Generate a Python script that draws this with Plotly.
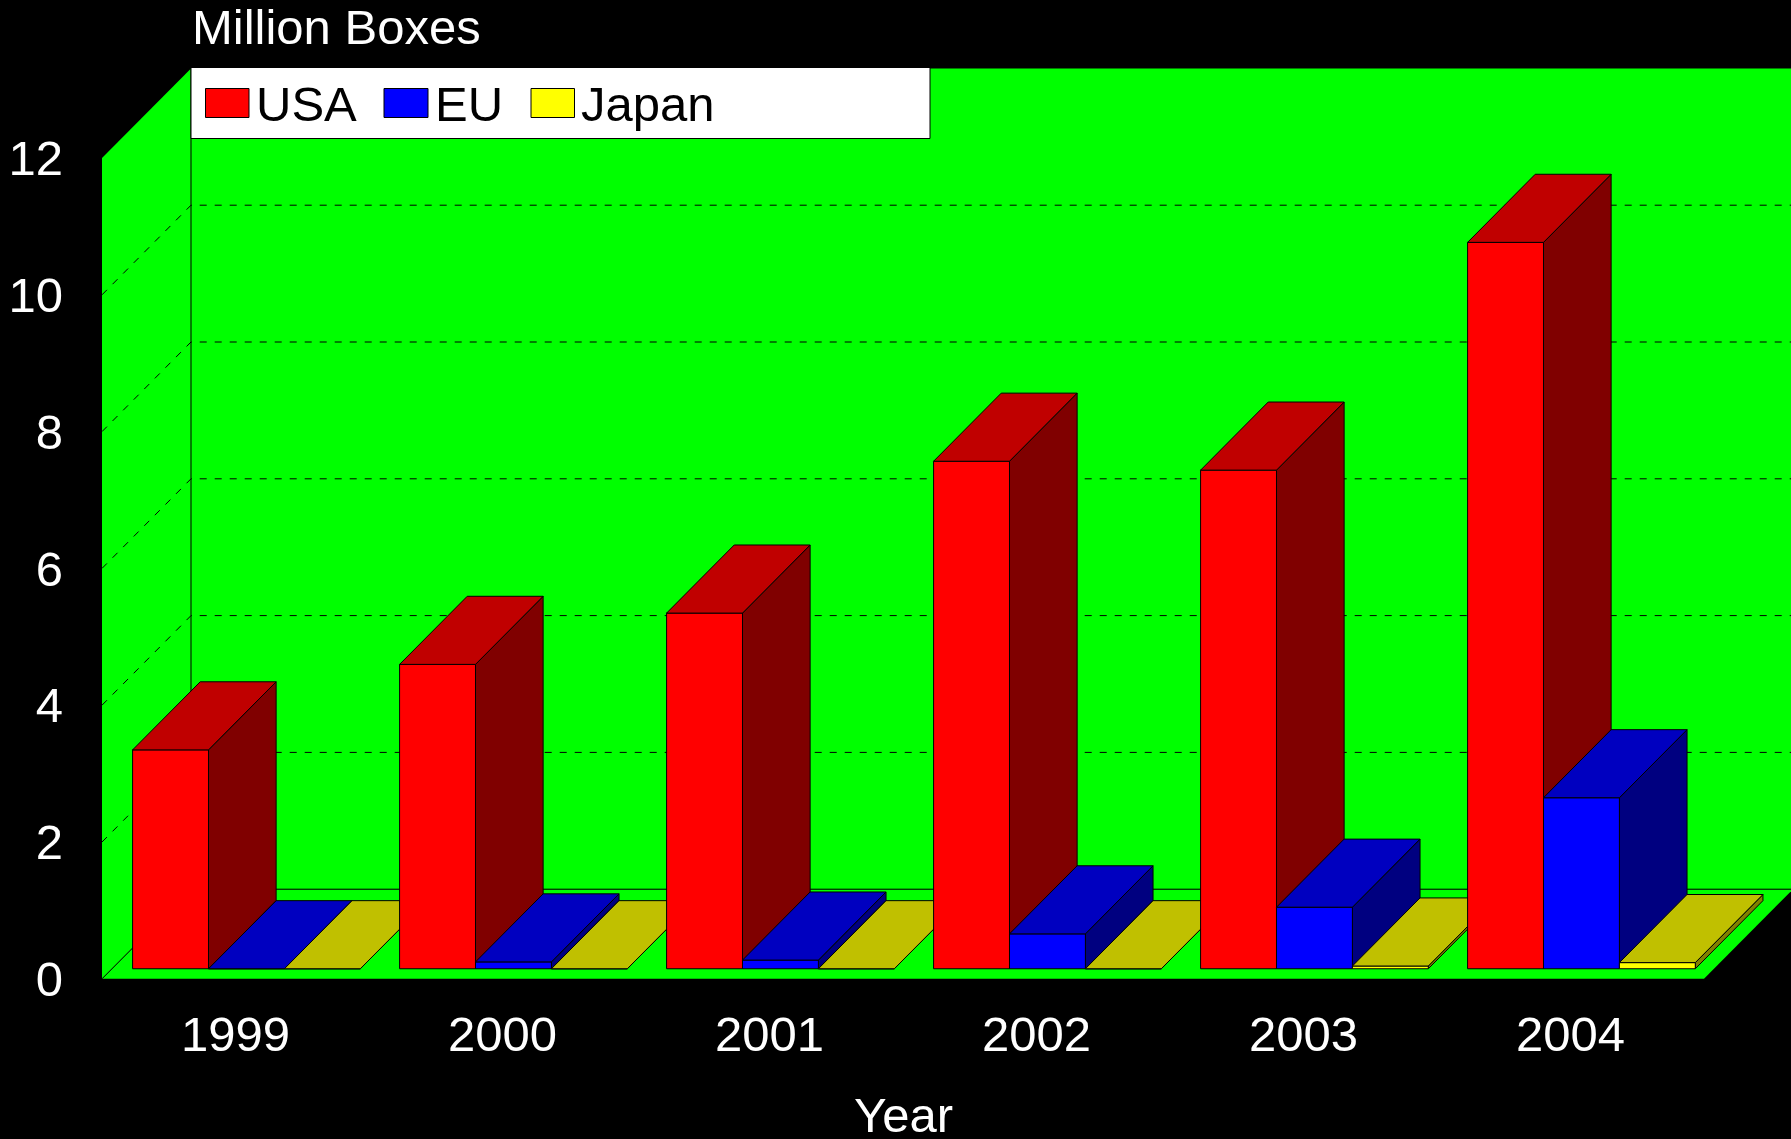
import plotly.graph_objects as go

years = ["1999", "2000", "2001", "2002", "2003", "2004"]
series_names = ["USA", "EU", "Japan"]
usa = [3.20, 4.45, 5.20, 7.42, 7.29, 10.62]
eu = [0.0, 0.10, 0.127, 0.51, 0.90, 2.50]
japan = [0.0, 0.0, 0.0, 0.0, 0.04, 0.09]
y_ticks = [0, 2, 4, 6, 8, 10, 12]
grid_values = [2, 4, 6, 8, 10]
series_values = [usa, eu, japan]

W, H = 1791, 1139
PX_CAT, PX_UNIT = 267.0, 68.4
X0_PX, Y0_PX = 102.0, 978.8
DX, DY = 1 / 3, 1.31            # oblique projection of the full chart depth
D0, D1 = 0.112, 0.872           # front / back of the bars along the depth
LEFT, BAR_W = 0.0772, 0.2843
FONT = "Liberation Sans"
FS = 49

xr = [-0.5 - X0_PX / PX_CAT, -0.5 + (W - X0_PX) / PX_CAT]
yr = [-(H - Y0_PX) / PX_UNIT, Y0_PX / PX_UNIT]
x_start, x_end = -0.5, 5.5
v_top = 12

face_cols = [("#ff0000", "#c00000", "#800000"),
             ("#0000ff", "#0000c0", "#000080"),
             ("#ffff00", "#c0c000", "#808000")]


def P(x, v, d):
    return x + d * DX, v + d * DY


fig = go.Figure()


def poly(points, fill=None, line="black", width=1, dash=None):
    xs = [P(*p)[0] for p in points]
    ys = [P(*p)[1] for p in points]
    if fill:
        xs.append(xs[0])
        ys.append(ys[0])
    fig.add_trace(go.Scatter(
        x=xs, y=ys, mode="lines", fill="toself" if fill else "none",
        fillcolor=fill,
        line=dict(color=line if line else "rgba(0,0,0,0)", width=width, dash=dash),
        hoverinfo="skip", showlegend=False))


GREEN = "#00ff00"
# walls and floor
poly([(x_start, 0, 1), (x_end + 1, 0, 1), (x_end + 1, v_top, 1), (x_start, v_top, 1)], GREEN, None, 0)
poly([(x_start, 0, 0), (x_start, 0, 1), (x_start, v_top, 1), (x_start, v_top, 0)], GREEN, None, 0)
poly([(x_start, 0, 0), (x_end, 0, 0), (x_end, 0, 1), (x_start, 0, 1)], GREEN, None, 0)

# dashed grid
for g in grid_values:
    poly([(x_start, g, 0), (x_start, g, 1), (x_end + 1, g, 1)], None, "black", 1, "7px,8px")

# wall edges
poly([(x_start, 0, 0), (x_start, 0, 1), (x_end + 1, 0, 1)], None, "black", 1)
poly([(x_start, 0, 1), (x_start, v_top, 1)], None, "black", 1)

# bars
for i in range(len(years)):
    for s, vals in enumerate(series_values):
        v = vals[i]
        x0 = i - 0.5 + LEFT + s * BAR_W
        x1 = x0 + BAR_W
        front, top, side = face_cols[s]
        poly([(x1, 0, D0), (x1, 0, D1), (x1, v, D1), (x1, v, D0)], side)
        poly([(x0, 0, D0), (x1, 0, D0), (x1, v, D0), (x0, v, D0)], front)
        poly([(x0, v, D0), (x1, v, D0), (x1, v, D1), (x0, v, D1)], top)

# legend key
key_boxes = [(205.5, 249), (384, 428), (531, 574.5)]
key_text_x = [254, 432.5, 578.5]
key_cols = [c[0] for c in face_cols]
shapes = [dict(type="rect", xref="paper", yref="paper", x0=191 / W, x1=930 / W,
               y0=1 - 138.5 / H, y1=1 - 67.5 / H, fillcolor="white",
               line=dict(color="black", width=1))]
annotations = []
for (a, b), c, tx, name in zip(key_boxes, key_cols, key_text_x, series_names):
    shapes.append(dict(type="rect", xref="paper", yref="paper", x0=a / W, x1=b / W,
                       y0=1 - 117.5 / H, y1=1 - 88.5 / H, fillcolor=c,
                       line=dict(color="black", width=1)))
    annotations.append(dict(text=name, xref="paper", yref="paper", x=tx / W, y=1 - 104 / H,
                            xanchor="left", yanchor="middle", showarrow=False,
                            font=dict(family=FONT, size=FS, color="black")))

annotations.append(dict(text="Million Boxes", xref="paper", yref="paper", x=189.5 / W, y=1 - 27 / H,
                        xanchor="left", yanchor="middle", showarrow=False,
                        font=dict(family=FONT, size=FS, color="white")))
annotations.append(dict(text="Year", xref="paper", yref="paper", x=903 / W, y=1 - 1115 / H,
                        xanchor="center", yanchor="middle", showarrow=False,
                        font=dict(family=FONT, size=FS, color="white")))

fig.update_layout(
    width=W, height=H, margin=dict(l=0, r=0, t=0, b=0), autosize=False,
    paper_bgcolor="black", plot_bgcolor="black", showlegend=False,
    font=dict(family=FONT, size=FS, color="white"),
    shapes=shapes, annotations=annotations,
    xaxis=dict(range=xr, tickmode="array", tickvals=list(range(len(years))), ticktext=years,
               showgrid=False, zeroline=False, showline=False, ticks="",
               anchor="free", position=(H - Y0_PX) / H, ticklabelstandoff=22,
               tickfont=dict(family=FONT, size=FS, color="white")),
    yaxis=dict(range=yr, tickmode="array", tickvals=y_ticks,
               showgrid=False, zeroline=False, showline=False, ticks="",
               anchor="free", position=X0_PX / W, ticklabelstandoff=39,
               tickfont=dict(family=FONT, size=FS, color="white")),
)

fig.write_html("out.html", config=dict(displayModeBar=False),
               post_script="document.body.style.margin='0';document.body.style.background='black';document.body.style.overflow='hidden';")
